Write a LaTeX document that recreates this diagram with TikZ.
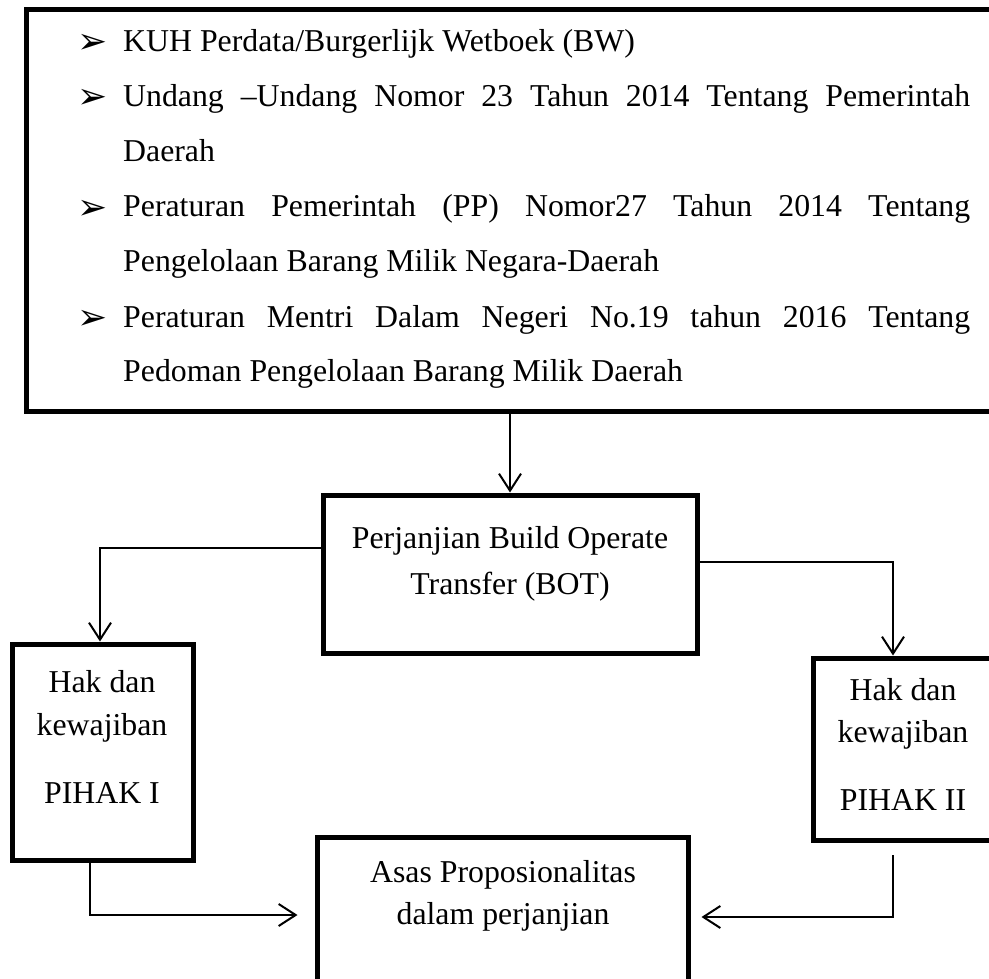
\documentclass[tikz,border=0pt]{standalone}
\usepackage{fontspec}
\setmainfont{Liberation Serif}
\newfontfamily\symfont{DejaVu Sans}
\usetikzlibrary{arrows.meta}
\begin{document}
\begin{tikzpicture}[x=1pt,y=-1pt,
  box/.style={draw, line width=5pt, rectangle, inner sep=0pt},
  conn/.style={line width=2pt},
  arr/.style={conn, -{Straight Barb[length=17pt,width=22pt]}},
  txt/.style={font=\fontsize{31.8}{40}\selectfont, inner sep=0pt, anchor=base},
  ltxt/.style={txt, anchor=base west},
  bul/.style={font=\symfont\fontsize{36}{40}\selectfont, inner sep=0pt, anchor=base west}
]
\clip (0,0) rectangle (989,979);
\fill[white] (0,0) rectangle (989,979);

% boxes
\node[box, minimum width=974pt, minimum height=401pt] (top) at (513,210.5) {};
\node[box, minimum width=374pt, minimum height=158pt] (bot) at (510,574) {};
\node[box, minimum width=181pt, minimum height=216pt] (p1) at (102.5,752) {};
\node[box, minimum width=190pt, minimum height=182pt] (p2) at (908,749) {};
\node[box, minimum width=371pt, minimum height=145pt] (asas) at (502.5,909.5) {};

% top list
\node[bul] (b1) at (77,54) {➢};
\node[ltxt] (t1) at (123,52) {KUH Perdata/Burgerlijk Wetboek (BW)};
\node[bul] (b2) at (77,109) {➢};
\node[ltxt] (t2) at (123,107) {\makebox[847pt][s]{Undang –Undang Nomor 23 Tahun 2014 Tentang Pemerintah}};
\node[ltxt] (t3) at (123,162) {Daerah};
\node[bul] (b3) at (77,219) {➢};
\node[ltxt] (t4) at (123,217) {\makebox[847pt][s]{Peraturan Pemerintah (PP) Nomor27 Tahun 2014 Tentang}};
\node[ltxt] (t5) at (123,272) {Pengelolaan Barang Milik Negara-Daerah};
\node[bul] (b4) at (77,329) {➢};
\node[ltxt] (t6) at (123,327) {\makebox[847pt][s]{Peraturan Mentri Dalam Negeri No.19 tahun 2016 Tentang}};
\node[ltxt] (t7) at (123,381) {Pedoman Pengelolaan Barang Milik Daerah};

% box texts
\node[txt] (bot1) at (510,548) {Perjanjian Build Operate};
\node[txt] (bot2) at (510,594) {Transfer (BOT)};
\node[txt] (p1a) at (102,692) {Hak dan};
\node[txt] (p1b) at (102,735) {kewajiban};
\node[txt] (p1c) at (102,803) {PIHAK I};
\node[txt] (p2a) at (903,700) {Hak dan};
\node[txt] (p2b) at (903,742) {kewajiban};
\node[txt] (p2c) at (903,810) {PIHAK II};
\node[txt] (as1) at (503,882) {Asas Proposionalitas};
\node[txt] (as2) at (503,924) {dalam perjanjian};

% connectors
\draw[arr] (top.south -| bot.north) -- (bot.north);
\coordinate (l1) at (100,548);
\draw[arr] (bot.west |- l1) -- (l1) -- (l1 |- p1.north);
\coordinate (r1) at (893,562);
\draw[arr] (bot.east |- r1) -- (r1) -- (r1 |- p2.north);
\coordinate (d1) at (90,915);
\draw[arr, shorten >=17pt] (p1.south -| d1) -- (d1) -- (asas.west |- d1);
\coordinate (e0) at (893,855);
\coordinate (e1) at (893,917);
\draw[arr, shorten >=11pt] (e0) -- (e1) -- (asas.east |- e1);
\end{tikzpicture}
\end{document}
